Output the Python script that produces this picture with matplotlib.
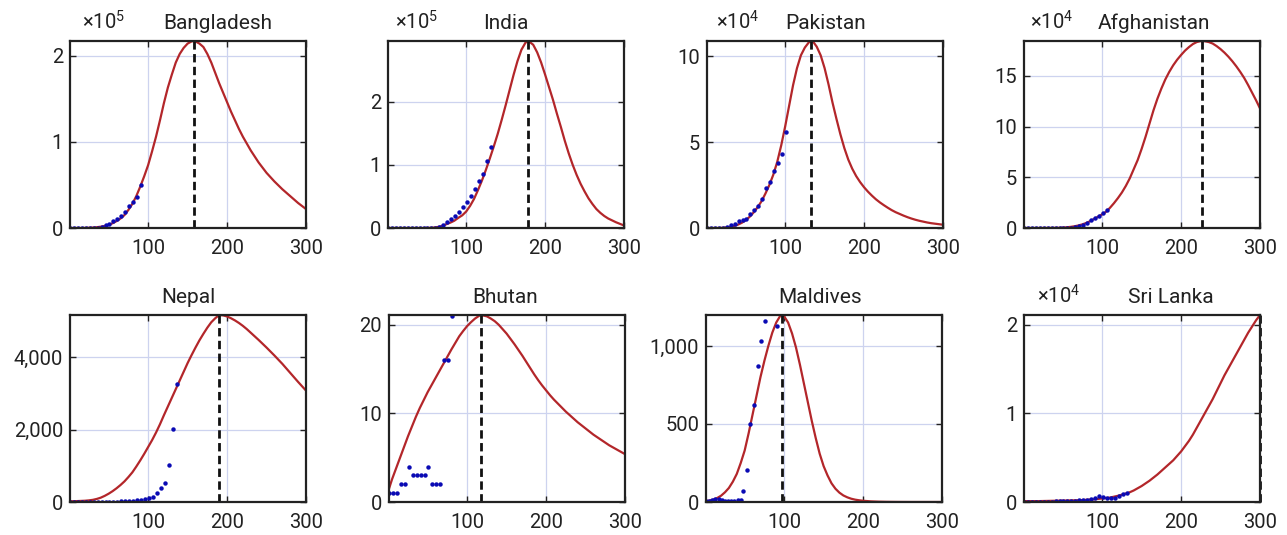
import matplotlib.pyplot as plt
import matplotlib.ticker as mticker
import numpy as np

plt.rcParams['font.family'] = ['Roboto', 'DejaVu Sans']
plt.rcParams['mathtext.default'] = 'regular'

# common day grid for the fitted curves: 1, 5, 10, ..., 300
days = [1] + list(range(5, 301, 5))

countries = ['Bangladesh', 'India', 'Pakistan', 'Afghanistan',
             'Nepal', 'Bhutan', 'Maldives', 'Sri Lanka']
exponents = [5, 5, 4, 4, None, None, None, 4]

# fitted curves, in axis units (already divided by 10^exp)
fit_bangladesh = [0, 0, 0, 0, 0.001, 0.003, 0.005, 0.009, 0.015, 0.024,
                  0.037, 0.055, 0.08, 0.11, 0.15, 0.21, 0.28, 0.37, 0.48, 0.60,
                  0.73, 0.89, 1.06, 1.25, 1.45, 1.63, 1.78, 1.92, 2.02, 2.09,
                  2.14, 2.165, 2.165, 2.14, 2.10, 2.02, 1.92, 1.80, 1.68, 1.57,
                  1.46, 1.35, 1.25, 1.15, 1.06, 0.98, 0.90, 0.83, 0.76, 0.70,
                  0.64, 0.59, 0.54, 0.495, 0.45, 0.41, 0.37, 0.33, 0.29, 0.255,
                  0.22]
fit_india = [0, 0, 0, 0, 0, 0, 0, 0, 0, 0,
             0.001, 0.003, 0.008, 0.018, 0.035, 0.06, 0.085, 0.115, 0.16, 0.2,
             0.26, 0.35, 0.46, 0.6, 0.75, 0.92, 1.1, 1.29, 1.49, 1.71,
             1.94, 2.18, 2.42, 2.64, 2.82, 2.93, 2.95, 2.9, 2.78, 2.62,
             2.43, 2.23, 2.03, 1.81, 1.6, 1.38, 1.18, 1.0, 0.84, 0.70,
             0.58, 0.47, 0.38, 0.30, 0.24, 0.19, 0.15, 0.12, 0.09, 0.065,
             0.04]
fit_pakistan = [0, 0, 0, 0, 0.01, 0.03, 0.06, 0.11, 0.19, 0.3,
                0.45, 0.65, 0.9, 1.2, 1.55, 2.0, 2.5, 3.1, 3.85, 4.8,
                5.9, 7.1, 8.3, 9.3, 10.05, 10.5, 10.8, 10.87, 10.55, 10.05,
                9.3, 8.35, 7.3, 6.35, 5.45, 4.65, 3.98, 3.45, 3.02, 2.67,
                2.37, 2.11, 1.88, 1.67, 1.49, 1.33, 1.18, 1.04, 0.92, 0.82,
                0.72, 0.63, 0.55, 0.48, 0.42, 0.37, 0.32, 0.28, 0.25, 0.22,
                0.19]
fit_afghanistan = [0, 0, 0, 0, 0.002, 0.004, 0.007, 0.01, 0.015, 0.02,
                   0.04, 0.07, 0.11, 0.17, 0.25, 0.36, 0.5, 0.68, 0.9, 1.12,
                   1.35, 1.6, 2.0, 2.45, 2.95, 3.5, 4.15, 4.9, 5.8, 6.7,
                   7.8, 9.0, 10.3, 11.6, 12.75, 13.75, 14.65, 15.4, 16.05, 16.6,
                   17.07, 17.5, 17.85, 18.15, 18.35, 18.44, 18.43, 18.35, 18.2, 17.95,
                   17.65, 17.3, 16.9, 16.45, 15.95, 15.4, 14.8, 14.1, 13.35, 12.6,
                   11.8]
fit_nepal = [20, 22, 25, 30, 35, 45, 60, 85, 120, 170,
             230, 300, 380, 470, 570, 690, 820, 980, 1150, 1330,
             1520, 1710, 1920, 2150, 2400, 2640, 2880, 3120, 3360, 3600,
             3840, 4060, 4270, 4470, 4650, 4820, 4970, 5080, 5160, 5160,
             5130, 5080, 5020, 4950, 4870, 4780, 4680, 4580, 4480, 4375,
             4270, 4160, 4050, 3935, 3820, 3695, 3570, 3445, 3320, 3200,
             3080]
fit_bhutan = [1.5, 2.6, 3.8, 5.0, 6.2, 7.4, 8.5, 9.6, 10.6, 11.5,
              12.4, 13.2, 14.0, 14.8, 15.6, 16.4, 17.2, 17.95, 18.7, 19.3,
              19.85, 20.3, 20.7, 21.0, 21.05, 20.95, 20.7, 20.4, 20.0, 19.5,
              19.0, 18.4, 17.8, 17.15, 16.5, 15.8, 15.1, 14.4, 13.75, 13.15,
              12.6, 12.05, 11.55, 11.1, 10.65, 10.2, 9.8, 9.4, 9.0, 8.65,
              8.3, 7.95, 7.6, 7.3, 7.0, 6.7, 6.4, 6.15, 5.9, 5.65,
              5.4]
fit_maldives = [5, 9, 15, 25, 40, 62, 90, 130, 180, 250,
                330, 440, 560, 680, 800, 905, 1000, 1085, 1150, 1192,
                1190, 1150, 1080, 990, 880, 760, 640, 520, 410, 310,
                230, 170, 120, 85, 60, 42, 30, 21, 15, 11,
                8, 6, 4, 3, 2, 1.5, 1, 0.7, 0.5, 0.3,
                0.2, 0.1, 0, 0, 0, 0, 0, 0, 0, 0,
                0]
fit_srilanka = [0.01, 0.01, 0.01, 0.01, 0.01, 0.011, 0.012, 0.013, 0.014, 0.015,
                0.016, 0.017, 0.018, 0.019, 0.02, 0.022, 0.025, 0.028, 0.03, 0.035,
                0.04, 0.045, 0.05, 0.06, 0.07, 0.082, 0.095, 0.11, 0.13, 0.155,
                0.18, 0.21, 0.24, 0.275, 0.31, 0.35, 0.39, 0.43, 0.47, 0.52,
                0.57, 0.63, 0.69, 0.76, 0.84, 0.92, 1.00, 1.08, 1.16, 1.25,
                1.34, 1.43, 1.51, 1.59, 1.67, 1.75, 1.83, 1.91, 1.98, 2.05,
                2.11]

peak_day = [158, 178, 133, 227, 190, 117, 97, 300]
peak_val = [2.17, 2.96, 10.88, 18.45, 5170, 21.1, 1198, 2.11]

# observed data points
obs_x_bangladesh = list(range(1, 92, 5))
obs_bangladesh = [0, 0, 0, 0, 0, 0, 0, 0.005, 0.01, 0.03, 0.05, 0.08, 0.11, 0.14, 0.19, 0.25, 0.30, 0.36, 0.50]
obs_x_india = list(range(1, 132, 5))
obs_india = [0] * 13 + [0.02, 0.05, 0.09, 0.14, 0.19, 0.25, 0.33, 0.41, 0.50, 0.61, 0.75, 0.86, 1.06, 1.28]
obs_x_pakistan = list(range(1, 102, 5))
obs_pakistan = [0, 0, 0, 0, 0.02, 0.08, 0.15, 0.25, 0.38, 0.45, 0.52, 0.81, 1.03, 1.3, 1.7, 2.3, 2.7, 3.3, 3.8, 4.3, 5.6]
obs_x_afghanistan = list(range(1, 107, 5))
obs_afghanistan = [0.02] * 13 + [0.1, 0.2, 0.3, 0.5, 0.75, 1.0, 1.2, 1.45, 1.75]
obs_x_nepal = list(range(1, 137, 5))
obs_nepal = [10] * 13 + [20, 25, 30, 40, 50, 60, 80, 100, 130, 250, 380, 530, 1020, 2020, 3260]
obs_x_bhutan = list(range(1, 82, 5))
obs_bhutan = [1, 1, 1, 2, 2, 4, 3, 3, 3, 3, 4, 2, 2, 2, 16, 16, 21]
obs_x_maldives = [1, 5, 9, 13, 17, 21, 25, 29, 33, 37, 41, 45, 48, 53, 57, 62, 67, 71, 76, 91]
obs_maldives = [5, 8, 12, 18, 20, 12, 8, 6, 6, 8, 10, 12, 70, 205, 500, 620, 870, 1030, 1160, 1130]
obs_x_srilanka = list(range(1, 132, 5))
obs_srilanka = [0, 0, 0, 0, 0.002, 0.003, 0.004, 0.005, 0.006, 0.008, 0.01, 0.012, 0.014, 0.016, 0.018,
                0.02, 0.025, 0.035, 0.05, 0.065, 0.055, 0.045, 0.04, 0.05, 0.07, 0.09, 0.1]

fits = [fit_bangladesh, fit_india, fit_pakistan, fit_afghanistan,
        fit_nepal, fit_bhutan, fit_maldives, fit_srilanka]
obs_xs = [obs_x_bangladesh, obs_x_india, obs_x_pakistan, obs_x_afghanistan,
          obs_x_nepal, obs_x_bhutan, obs_x_maldives, obs_x_srilanka]
obs_ys = [obs_bangladesh, obs_india, obs_pakistan, obs_afghanistan,
          obs_nepal, obs_bhutan, obs_maldives, obs_srilanka]
yticks = [[0, 1, 2], [0, 1, 2], [0, 5, 10], [0, 5, 10, 15],
          [0, 2000, 4000], [0, 10, 20], [0, 500, 1000], [0, 1, 2]]

# layout (pixel boxes)
W, H = 1287, 535
lefts = [70, 388, 707, 1024, 70, 389, 706, 1024]
tops = [41, 41, 41, 41, 315, 315, 315, 315]
aw, ah = 236, 187
title_x = [0.627, 0.5, 0.502, 0.549, 0.5, 0.49, 0.485, 0.621]
exp_x = [0.05, 0.03, 0.04, 0.026, 0, 0, 0, 0.055]

fig = plt.figure(figsize=(W / 100, H / 100), dpi=100)

for i, name in enumerate(countries):
    ax = fig.add_axes([lefts[i] / W, 1 - (tops[i] + ah) / H, aw / W, ah / H])

    # put the peak into the curve so the top is reached
    cx = np.array(days, dtype=float)
    cy = np.array(fits[i], dtype=float)
    m = cx != peak_day[i]
    cx = np.append(cx[m], peak_day[i])
    cy = np.append(cy[m], peak_val[i])
    order = np.argsort(cx)
    ax.plot(cx[order], cy[order], color='#b3262a', lw=1.6, zorder=3)
    ax.plot(obs_xs[i], obs_ys[i], 'o', color='#0a0ab4', ms=3.2, mew=0, zorder=4)
    ax.plot([peak_day[i], peak_day[i]], [0, peak_val[i]], color='#111111',
            lw=2, ls=(0, (3, 1.6)), zorder=5, clip_on=False)

    ax.set_xlim(1, 300)
    ax.set_ylim(0, peak_val[i])
    ax.set_xticks([100, 200, 300])
    ax.set_yticks(yticks[i])
    ax.yaxis.set_major_formatter(mticker.FuncFormatter(lambda v, p: f'{v:,.0f}'))
    ax.grid(True, color='#cdd3ef', lw=0.9)
    ax.set_axisbelow(True)
    ax.tick_params(direction='in', length=4, width=1, top=True, right=True,
                   labelsize=14.5, colors='#222222')
    ax.tick_params(axis='x', pad=8)
    ax.tick_params(axis='y', pad=5)
    for sp in ax.spines.values():
        sp.set_linewidth(1.6)
        sp.set_color('#222222')
        sp.set_zorder(6)

    ax.text(title_x[i], 1 + 12 / ah, name, transform=ax.transAxes,
            ha='center', va='baseline', fontsize=15, color='#222222')
    if exponents[i] is not None:
        ax.text(exp_x[i], 1 + 12 / ah, r'$\times10^{%d}$' % exponents[i],
                transform=ax.transAxes, ha='left', va='baseline',
                fontsize=14.5, color='#222222')

fig.savefig('out.png', dpi=100)
